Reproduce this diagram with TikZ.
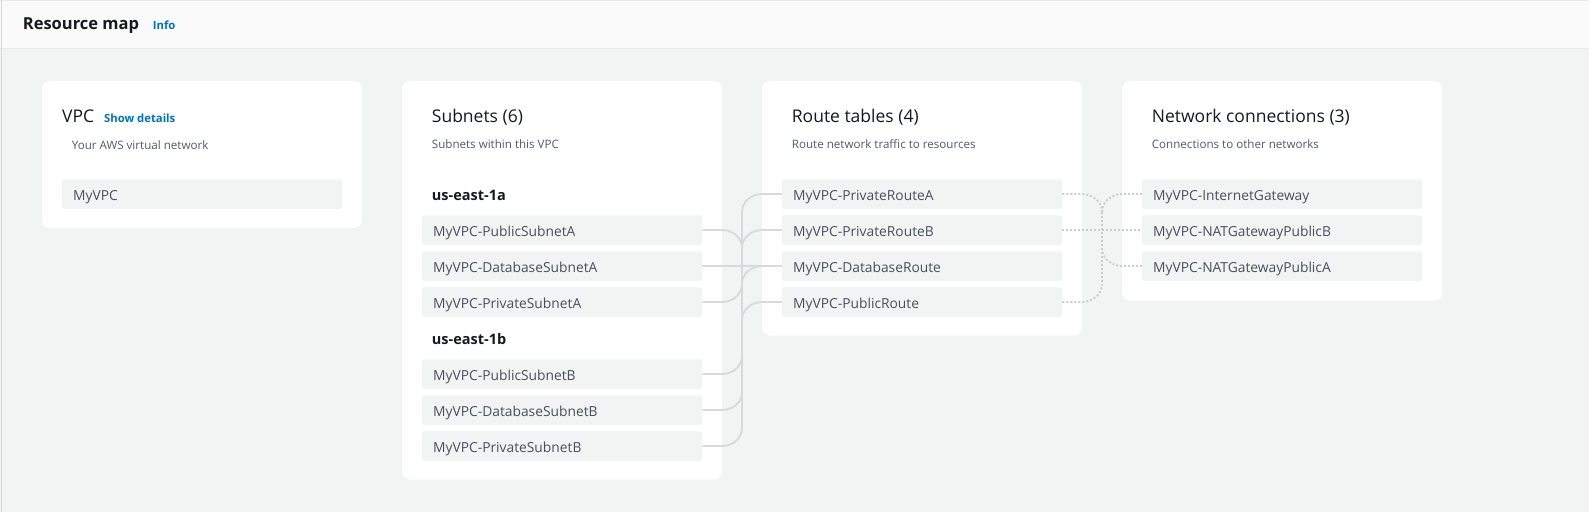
\documentclass[tikz,border=0pt]{standalone}
\usepackage{fontspec}
\setmainfont{Open Sans}
\definecolor{bgc}{HTML}{F2F3F3}
\definecolor{headc}{HTML}{FAFAFA}
\definecolor{linec}{HTML}{E9EBED}
\definecolor{edgec}{HTML}{D5DBDB}
\definecolor{boxc}{HTML}{F2F3F3}
\definecolor{titlec}{HTML}{16191F}
\definecolor{subc}{HTML}{545B64}
\definecolor{boxtext}{HTML}{4A5059}
\definecolor{bluec}{HTML}{0073BB}
\definecolor{connc}{HTML}{D5DBDB}
\definecolor{dotc}{HTML}{C8CDCD}
\begin{document}
\begin{tikzpicture}[x=1pt,y=1pt,
  title/.style={anchor=base west, inner sep=0pt, font=\fontsize{17.5}{20}\selectfont, text=titlec},
  sub/.style={anchor=base west, inner sep=0pt, font=\fontsize{11.6}{14}\selectfont, text=subc},
  zone/.style={anchor=base west, inner sep=0pt, font=\bfseries\fontsize{14.5}{17}\selectfont, text=titlec},
  link/.style={anchor=base west, inner sep=0pt, font=\bfseries\fontsize{11.3}{14}\selectfont, text=bluec},
  box/.style={anchor=west, fill=boxc, rounded corners=2pt, text width=258pt, inner xsep=11pt, inner ysep=0pt, minimum height=29.5pt, text height=14pt, text depth=2pt, align=left, font=\fontsize{13.8}{16}\selectfont, text=boxtext},
  card/.style={fill=white, rounded corners=8pt},
  conn/.style={draw=connc, line width=1.8pt},
  dconn/.style={draw=dotc, line width=1.8pt, dash pattern=on 2pt off 2pt}]
\useasboundingbox (0,0) rectangle (1589,-512);
\fill[bgc] (0,0) rectangle (1589,-512);
% header
\fill[headc] (0,0) rectangle (1589,-48);
\draw[linec, line width=1pt] (0,-48) -- (1589,-48);
\draw[linec, line width=1pt] (0,-0.5) -- (1589,-0.5);
\draw[edgec, line width=1.2pt] (1.5,0) -- (1.5,-512);
\node[anchor=base west, inner sep=0pt, font=\bfseries\fontsize{16.5}{20}\selectfont, text=titlec] (hdr) at (22.7,-29.3) {Resource map};
\node[link] (info) at (152.7,-29.3) {Info};
% cards
\fill[card] (42,-81) rectangle (362,-228);
\fill[card] (402,-81) rectangle (722,-479.5);
\fill[card] (762,-81) rectangle (1082,-335.5);
\fill[card] (1122,-81) rectangle (1442,-300.7);
% VPC card
\node[title] (vpct) at (62,-122.3) {VPC};
\node[link] (show) at (104,-122.3) {Show details};
\node[sub] (vpcs) at (71.7,-149) {Your AWS virtual network};
\node[box] (vpc) at (62,-194) {MyVPC};
% Subnets card
\node[title] (subt) at (431.7,-122.3) {Subnets (6)};
\node[sub] (subs) at (431.7,-148.7) {Subnets within this VPC};
\node[zone] (za) at (431.7,-200.7) {us-east-1a};
\node[box] (sA1) at (422,-230) {MyVPC-PublicSubnetA};
\node[box] (sA2) at (422,-266) {MyVPC-DatabaseSubnetA};
\node[box] (sA3) at (422,-302) {MyVPC-PrivateSubnetA};
\node[zone] (zb) at (431.7,-344) {us-east-1b};
\node[box] (sB1) at (422,-374) {MyVPC-PublicSubnetB};
\node[box] (sB2) at (422,-410) {MyVPC-DatabaseSubnetB};
\node[box] (sB3) at (422,-446) {MyVPC-PrivateSubnetB};
% Route tables card
\node[title] (rtt) at (791.7,-122.3) {Route tables (4)};
\node[sub] (rts) at (791.7,-148.7) {Route network traffic to resources};
\node[box] (rA) at (782,-194) {MyVPC-PrivateRouteA};
\node[box] (rB) at (782,-230) {MyVPC-PrivateRouteB};
\node[box] (rD) at (782,-266) {MyVPC-DatabaseRoute};
\node[box] (rP) at (782,-302) {MyVPC-PublicRoute};
% Network connections card
\node[title] (nct) at (1151.7,-122.3) {Network connections (3)};
\node[sub] (ncs) at (1151.7,-148.7) {Connections to other networks};
\node[box] (nIG) at (1142,-194) {MyVPC-InternetGateway};
\node[box] (nB) at (1142,-230) {MyVPC-NATGatewayPublicB};
\node[box] (nA) at (1142,-266) {MyVPC-NATGatewayPublicA};
% junction coordinates
\coordinate (gL) at (722,0);
\coordinate (gR) at (762,0);
\coordinate (j1) at (742,-212);
\coordinate (j2) at (742,-248);
\coordinate (j3) at (742,-284);
\coordinate (j4) at (742,-320);
\coordinate (j5) at (742,-356);
\coordinate (j6) at (742,-392);
\coordinate (j7) at (742,-428);
\coordinate (hL) at (1082,0);
\coordinate (hR) at (1122,0);
\coordinate (k1) at (1102,-212);
\coordinate (k2) at (1102,-248);
\coordinate (k3) at (1102,-284);
% subnet -> route connectors
\draw[conn] (j1) -- (j7);
\draw[conn] (j1) to[out=90,in=180] (rA.west -| gR) -- (rA.west);
\draw[conn] (sA1.east) -- (sA1.east -| gL) to[out=0,in=90] (j2);
\draw[conn] (j2) to[out=90,in=180] (rB.west -| gR) -- (rB.west);
\draw[conn] (sA2.east) -- (rD.west);
\draw[conn] (sA3.east) -- (sA3.east -| gL) to[out=0,in=-90] (j3);
\draw[conn] (j3) to[out=90,in=180] (rD.west -| gR);
\draw[conn] (j4) to[out=90,in=180] (rP.west -| gR) -- (rP.west);
\draw[conn] (sB1.east) -- (sB1.east -| gL) to[out=0,in=-90] (j5);
\draw[conn] (sB2.east) -- (sB2.east -| gL) to[out=0,in=-90] (j6);
\draw[conn] (sB3.east) -- (sB3.east -| gL) to[out=0,in=-90] (j7);
% route -> network connectors
\draw[dconn] (k1) -- (k3);
\draw[dconn] (rA.east) -- (rA.east -| hL) to[out=0,in=90] (k1);
\draw[dconn] (k1) to[out=90,in=180] (nIG.west -| hR) -- (nIG.west);
\draw[dconn] (rB.east) -- (nB.west);
\draw[dconn] (k2) to[out=-90,in=180] (nA.west -| hR) -- (nA.west);
\draw[dconn] (rP.east) -- (rP.east -| hL) to[out=0,in=-90] (k3);
\end{tikzpicture}
\end{document}
